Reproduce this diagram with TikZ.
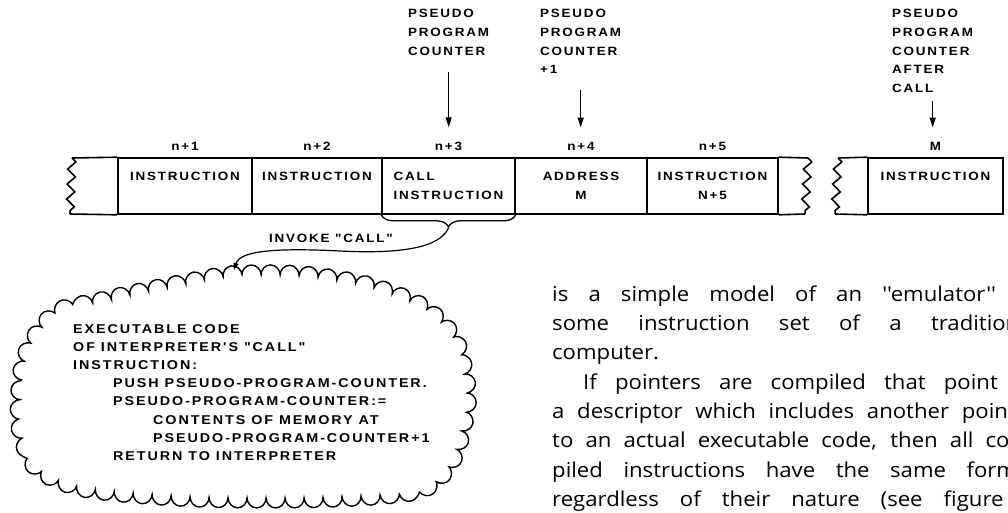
\documentclass[tikz,border=0pt]{standalone}
\usepackage{fontspec}
\setmainfont{Liberation Sans}
\newfontfamily\widefont[LetterSpace=15,FakeStretch=1.12]{Liberation Sans}
\newfontfamily\bodyfont[FakeStretch=1.08]{Open Sans}
\usetikzlibrary{arrows.meta,decorations.pathmorphing,decorations.pathreplacing}
\begin{document}
\begin{tikzpicture}[x=1pt, y=-1pt, every node/.style={font=\widefont\bfseries\fontsize{12}{18.8}\selectfont, inner sep=0pt},
  cell/.style={draw,line width=1.6pt,minimum width=#1,minimum height=56pt,align=center},
  idx/.style={anchor=south,yshift=6pt},
  lbl/.style={anchor=north west,align=left},
  ptr/.style={-{Triangle[length=10pt,width=6pt]},line width=1.4pt},
  rim/.style={line width=1.6pt},
  wavy/.style={line width=1.6pt,decorate,decoration={zigzag,segment length=15pt,amplitude=4pt}}]
\useasboundingbox (0,0) rectangle (1008,513);
\clip (0,0) rectangle (1008,513);
% memory cells
\node[cell=134pt] (c1) at (185,186) {INSTRUCTION\\\phantom{M}};
\node[cell=130pt] (c2) at (317,186) {INSTRUCTION\\\phantom{M}};
\node[cell=133pt,align=left] (c3) at (448.5,186) {CALL\\INSTRUCTION};
\node[cell=132pt] (c4) at (581,186) {ADDRESS\\M};
\node[cell=131pt] (c5) at (712.5,186) {INSTRUCTION\\N+5};
\node[cell=135pt] (cM) at (935.5,186) {INSTRUCTION\\\phantom{M}};
\node[idx] (n1) at (c1.north) {n+1};
\node[idx] (n2) at (c2.north) {n+2};
\node[idx] (n3) at (c3.north) {n+3};
\node[idx] (n4) at (c4.north) {n+4};
\node[idx] (n5) at (c5.north) {n+5};
\node[idx] (nM) at (cM.north) {M};
% torn ends of the strip
\coordinate (lw) at (72,158); \coordinate (lb) at (70,214);
\coordinate (rw) at (808,158); \coordinate (rb) at (805,214);
\coordinate (sw) at (838,158); \coordinate (sb) at (835,214);
\draw[rim] (lw) -- (c1.north west) (lb) -- (c1.south west);
\draw[rim] (c5.north east) -- (rw) (c5.south east) -- (rb);
\draw[rim] (sw) -- (cM.north west) (sb) -- (cM.south west);
\draw[wavy] (lw) -- (lb); \draw[wavy] (rw) -- (rb); \draw[wavy] (sw) -- (sb);
% pseudo program counters
\node[lbl] (pc1) at (408,9) {PSEUDO\\PROGRAM\\COUNTER};
\node[lbl] (pc2) at (540,9) {PSEUDO\\PROGRAM\\COUNTER\\+1};
\node[lbl] (pc3) at (892,9) {PSEUDO\\PROGRAM\\COUNTER\\AFTER\\CALL};
\draw[ptr,shorten <=17pt,shorten >=15pt] (pc1.south) -- (pc1.south |- n3.north);
\draw[ptr,shorten <=16pt,shorten >=15pt] (pc2.south) -- (pc2.south |- n4.north);
\draw[ptr,shorten <=8pt,shorten >=15pt] (pc3.south) -- (pc3.south |- nM.north);
% invoke call
\draw[line width=1.3pt,decorate,decoration={brace,amplitude=12pt,mirror}] (c3.south west) -- (c3.south east);
\coordinate (tip) at ([yshift=-13pt]c3.south);
\node (inv) at (331,238) {INVOKE "CALL"};
\coordinate (cltop) at (234,270);
\draw[line width=1.2pt,-{Triangle[length=7pt,width=5pt]}] (tip) .. controls (440,248) and (400,254) .. (340,251) .. controls (280,248) and (240,250) .. (cltop);
% cloud
\draw[line width=1.4pt,decorate,decoration={bumps,segment length=38pt,amplitude=10pt}]
  plot[smooth cycle] coordinates {(22,430) (22,380) (32,345) (58,314) (110,300) (175,286) (233,276) (300,276) (365,286) (420,307) (453,340) (466,395) (453,455) (420,488) (333,497) (200,497) (90,488) (40,468)};
\node[lbl,font=\widefont\bfseries\fontsize{12.8}{18.2}\selectfont] (code) at (73,324) {EXECUTABLE CODE\\OF INTERPRETER'S "CALL"\\INSTRUCTION:\\
  \hspace*{40pt}PUSH PSEUDO-PROGRAM-COUNTER.\\\hspace*{40pt}PSEUDO-PROGRAM-COUNTER:=\\
  \hspace*{80pt}CONTENTS OF MEMORY AT\\\hspace*{80pt}PSEUDO-PROGRAM-COUNTER+1\\\hspace*{40pt}RETURN TO INTERPRETER};
% running text
\node[lbl,font=\bodyfont\fontsize{20.5}{29.3}\selectfont] (txt) at (552,285.5) {\makebox[485pt][s]{is a simple model of an ''emulator'' of}\\
  \makebox[485pt][s]{some instruction set of a traditional}\\
  computer.\\
  \makebox[485pt][s]{\hspace*{31pt}If pointers are compiled that point to}\\
  \makebox[485pt][s]{a descriptor which includes another pointer}\\
  \makebox[485pt][s]{to an actual executable code, then all com-}\\
  \makebox[485pt][s]{piled instructions have the same format}\\
  \makebox[485pt][s]{regardless of their nature (see figure 1}};
\end{tikzpicture}
\end{document}
